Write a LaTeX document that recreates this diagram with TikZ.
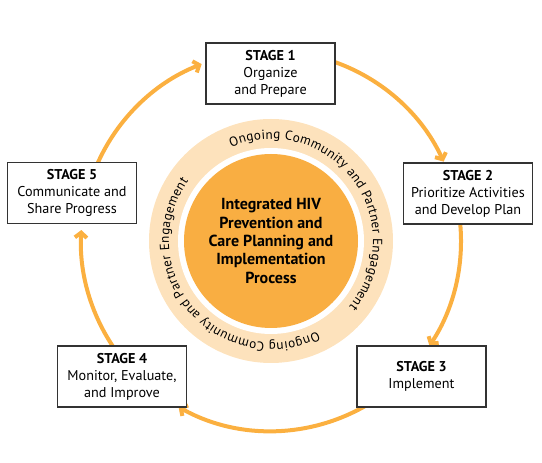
\documentclass[tikz,border=0pt]{standalone}
\usepackage{fontspec}
\setmainfont{PT Sans}
\usetikzlibrary{arrows.meta,decorations.text}
\definecolor{hivorange}{HTML}{F9AE42}
\definecolor{ringtan}{HTML}{FDE2BC}
\definecolor{arrowgold}{HTML}{FBB040}
\definecolor{boxline}{HTML}{333333}

\begin{document}
\begin{tikzpicture}[x=1pt,y=1pt,
        stage/.style={draw=boxline,line width=1.1pt,fill=white,minimum width=129pt,minimum height=61pt,
            align=center,inner sep=0pt,font=\fontsize{14.2}{17}\selectfont},
        flow/.style={draw=arrowgold,line width=4pt,-{Straight Barb[length=5pt,width=12pt]}},
        ringtext/.style={decorate,decoration={text along path,text align=fit to path,
            text={|\fontsize{13.2}{15}\selectfont|Ongoing Community and Partner Engagement}}}]
    \useasboundingbox (0,0) rectangle (542,463);

    % hub and engagement ring
    \fill[ringtan] (271,222) circle[radius=122pt];
    \fill[white] (271,222) circle[radius=93pt];
    \node[circle,fill=hivorange,minimum size=174pt,inner sep=0pt,align=center,
        font=\fontsize{16}{18.3}\selectfont\bfseries] (hub) at (271,222)
        {Integrated HIV\\Prevention and\\Care Planning and\\Implementation\\Process};
    \path[ringtext] (hub) ++(113:102pt) arc[start angle=113,end angle=-40,radius=102pt];
    \path[ringtext] (hub) ++(-63:102pt) arc[start angle=-63,end angle=-216,radius=102pt];

    % cycle arrows
    \draw[flow] (hub) ++(75:190pt) arc[start angle=75,end angle=24.7,radius=190pt];
    \draw[flow] (hub) ++(8:190pt) arc[start angle=8,end angle=-33.5,radius=190pt];
    \draw[flow] (hub) ++(-55:190pt) arc[start angle=-55,end angle=-119.1,radius=190pt];
    \draw[flow] (hub) ++(-145:190pt) arc[start angle=-145,end angle=-183.3,radius=190pt];
    \draw[flow] (hub) ++(158:190pt) arc[start angle=158,end angle=111.4,radius=190pt];

    % stages
    \node[stage] (s1) at (270.5,389.5) {\textbf{STAGE 1}\\Organize\\and Prepare};
    \node[stage] (s2) at (468,269.5) {\textbf{STAGE 2}\\Prioritize Activities\\and Develop Plan};
    \node[stage] (s3) at (421.5,86.5) {\textbf{STAGE 3}\\Implement};
    \node[stage] (s4) at (122,86.5) {\textbf{STAGE 4}\\Monitor, Evaluate,\\and Improve};
    \node[stage] (s5) at (72,270) {\textbf{STAGE 5}\\Communicate and\\Share Progress};
\end{tikzpicture}
\end{document}
